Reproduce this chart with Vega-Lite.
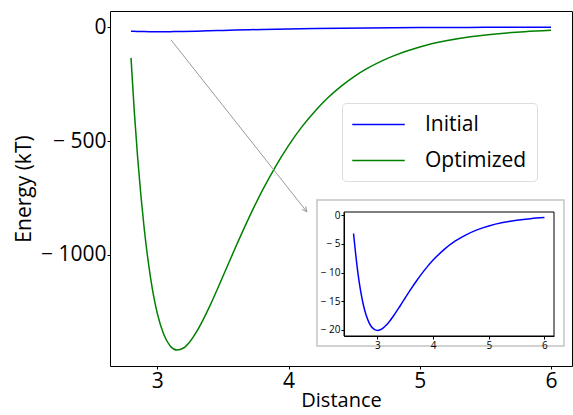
{
  "$schema": "https://vega.github.io/schema/vega-lite/v6.json",
  "width": 462,
  "height": 355,
  "autosize": {"type": "none"},
  "padding": {"left": 110, "top": 11, "right": 1, "bottom": 49},
  "background": "white",
  "config": {
    "font": "Open Sans",
    "view": {"stroke": "black", "strokeWidth": 1},
    "axis": {"grid": false, "labelColor": "black", "titleColor": "black", "tickColor": "black", "domainColor": "black", "titleFontWeight": "normal"}
  },
  "datasets": {
    "main": [
      {"x": 2.8, "energy": -17.56, "series": "Initial"},
      {"x": 2.85, "energy": -18.78, "series": "Initial"},
      {"x": 2.9, "energy": -19.56, "series": "Initial"},
      {"x": 2.95, "energy": -19.98, "series": "Initial"},
      {"x": 3.0, "energy": -20.1, "series": "Initial"},
      {"x": 3.05, "energy": -19.99, "series": "Initial"},
      {"x": 3.1, "energy": -19.7, "series": "Initial"},
      {"x": 3.15, "energy": -19.26, "series": "Initial"},
      {"x": 3.2, "energy": -18.72, "series": "Initial"},
      {"x": 3.3, "energy": -17.4, "series": "Initial"},
      {"x": 3.4, "energy": -15.93, "series": "Initial"},
      {"x": 3.5, "energy": -14.4, "series": "Initial"},
      {"x": 3.6, "energy": -12.9, "series": "Initial"},
      {"x": 3.7, "energy": -11.48, "series": "Initial"},
      {"x": 3.8, "energy": -10.15, "series": "Initial"},
      {"x": 3.9, "energy": -8.93, "series": "Initial"},
      {"x": 4.0, "energy": -7.83, "series": "Initial"},
      {"x": 4.2, "energy": -5.96, "series": "Initial"},
      {"x": 4.4, "energy": -4.5, "series": "Initial"},
      {"x": 4.6, "energy": -3.38, "series": "Initial"},
      {"x": 4.8, "energy": -2.52, "series": "Initial"},
      {"x": 5.0, "energy": -1.88, "series": "Initial"},
      {"x": 5.25, "energy": -1.29, "series": "Initial"},
      {"x": 5.5, "energy": -0.89, "series": "Initial"},
      {"x": 5.75, "energy": -0.61, "series": "Initial"},
      {"x": 6.0, "energy": -0.42, "series": "Initial"},
      {"x": 2.8, "energy": -135, "series": "Optimized"},
      {"x": 2.825, "energy": -370, "series": "Optimized"},
      {"x": 2.85, "energy": -568, "series": "Optimized"},
      {"x": 2.875, "energy": -737, "series": "Optimized"},
      {"x": 2.9, "energy": -881, "series": "Optimized"},
      {"x": 2.95, "energy": -1104, "series": "Optimized"},
      {"x": 3.0, "energy": -1256, "series": "Optimized"},
      {"x": 3.05, "energy": -1350, "series": "Optimized"},
      {"x": 3.1, "energy": -1401, "series": "Optimized"},
      {"x": 3.15, "energy": -1418, "series": "Optimized"},
      {"x": 3.2, "energy": -1409, "series": "Optimized"},
      {"x": 3.25, "energy": -1380, "series": "Optimized"},
      {"x": 3.3, "energy": -1337, "series": "Optimized"},
      {"x": 3.35, "energy": -1284, "series": "Optimized"},
      {"x": 3.4, "energy": -1225, "series": "Optimized"},
      {"x": 3.5, "energy": -1095, "series": "Optimized"},
      {"x": 3.6, "energy": -962, "series": "Optimized"},
      {"x": 3.7, "energy": -835, "series": "Optimized"},
      {"x": 3.8, "energy": -718, "series": "Optimized"},
      {"x": 3.9, "energy": -613, "series": "Optimized"},
      {"x": 4.0, "energy": -520, "series": "Optimized"},
      {"x": 4.1, "energy": -439, "series": "Optimized"},
      {"x": 4.2, "energy": -370, "series": "Optimized"},
      {"x": 4.3, "energy": -310, "series": "Optimized"},
      {"x": 4.4, "energy": -260, "series": "Optimized"},
      {"x": 4.5, "energy": -217, "series": "Optimized"},
      {"x": 4.6, "energy": -181, "series": "Optimized"},
      {"x": 4.7, "energy": -151, "series": "Optimized"},
      {"x": 4.8, "energy": -126, "series": "Optimized"},
      {"x": 5.0, "energy": -87, "series": "Optimized"},
      {"x": 5.2, "energy": -60, "series": "Optimized"},
      {"x": 5.4, "energy": -41, "series": "Optimized"},
      {"x": 5.6, "energy": -28.5, "series": "Optimized"},
      {"x": 5.8, "energy": -19.6, "series": "Optimized"},
      {"x": 6.0, "energy": -13.5, "series": "Optimized"}
    ],
    "inset": [
      {"x": 2.57, "energy": -3.2},
      {"x": 2.6, "energy": -6.03},
      {"x": 2.65, "energy": -10.18},
      {"x": 2.7, "energy": -13.39},
      {"x": 2.75, "energy": -15.8},
      {"x": 2.8, "energy": -17.56},
      {"x": 2.85, "energy": -18.78},
      {"x": 2.9, "energy": -19.56},
      {"x": 2.95, "energy": -19.98},
      {"x": 3.0, "energy": -20.1},
      {"x": 3.05, "energy": -19.99},
      {"x": 3.1, "energy": -19.7},
      {"x": 3.15, "energy": -19.26},
      {"x": 3.2, "energy": -18.72},
      {"x": 3.3, "energy": -17.4},
      {"x": 3.4, "energy": -15.93},
      {"x": 3.5, "energy": -14.4},
      {"x": 3.6, "energy": -12.9},
      {"x": 3.7, "energy": -11.48},
      {"x": 3.8, "energy": -10.15},
      {"x": 3.9, "energy": -8.93},
      {"x": 4.0, "energy": -7.83},
      {"x": 4.2, "energy": -5.96},
      {"x": 4.4, "energy": -4.5},
      {"x": 4.6, "energy": -3.38},
      {"x": 4.8, "energy": -2.52},
      {"x": 5.0, "energy": -1.88},
      {"x": 5.25, "energy": -1.29},
      {"x": 5.5, "energy": -0.89},
      {"x": 5.75, "energy": -0.61},
      {"x": 6.0, "energy": -0.42}
    ]
  },
  "layer": [
    {
      "layer": [
        {
          "data": {"name": "main"},
          "mark": {"type": "line", "strokeWidth": 1.5, "interpolate": "monotone"},
          "encoding": {
            "x": {"field": "x", "type": "quantitative",
              "scale": {"domain": [2.64, 6.16], "nice": false, "zero": false},
              "axis": {"values": [3, 4, 5, 6], "format": "d", "title": "Distance", "labelFontSize": 21, "titleFontSize": 20, "tickSize": 3, "labelPadding": 1, "titlePadding": -1, "domain": false}},
            "y": {"field": "energy", "type": "quantitative",
              "scale": {"domain": [-1488, 71], "nice": false, "zero": false},
              "axis": {"values": [0, -500, -1000], "title": "Energy (kT)", "labelFontSize": 21, "titleFontSize": 21, "tickSize": 3, "labelPadding": 1, "titlePadding": 6, "domain": false,
                "labelExpr": "datum.value < 0 ? '− ' + format(-datum.value, 'd') : format(datum.value, 'd')"}},
            "color": {"field": "series", "type": "nominal",
              "scale": {"domain": ["Initial", "Optimized"], "range": ["#0000ff", "#008000"]},
              "legend": {"orient": "none", "legendX": 232, "legendY": 92, "title": null,
                "symbolType": "M-2.5,0L2.5,0", "symbolSize": 441, "symbolStrokeWidth": 1.5,
                "labelFontSize": 21, "labelColor": "black", "padding": 10, "rowPadding": 14,
                "cornerRadius": 4, "strokeColor": "#dddddd", "fillColor": "white",
                "symbolOffset": 15, "labelOffset": 35}}
          }
        },
        {
          "data": {"values": [{}]},
          "mark": {"type": "rule", "color": "#999999", "strokeWidth": 1},
          "encoding": {
            "x": {"datum": 3.105, "type": "quantitative"},
            "y": {"datum": -56, "type": "quantitative"},
            "x2": {"datum": 4.139},
            "y2": {"datum": -810}
          }
        },
        {
          "data": {"values": [{}]},
          "mark": {"type": "point", "shape": "M-0.6,1.2L0,0L0.6,1.2", "filled": false, "stroke": "#999999", "strokeWidth": 1, "size": 64, "angle": 141.7, "opacity": 1},
          "encoding": {
            "x": {"datum": 4.139, "type": "quantitative"},
            "y": {"datum": -810, "type": "quantitative"}
          }
        }
      ]
    },
    {
      "layer": [
        {
          "data": {"values": [{}]},
          "mark": {"type": "rect", "fill": "white", "stroke": "#c4c4c4", "strokeWidth": 1.5},
          "encoding": {
            "x": {"datum": 1.913, "type": "quantitative",
              "scale": {"domain": [2.3985, 6.1715], "range": [234, 444], "nice": false, "zero": false},
              "axis": {"orient": "bottom", "offset": -30, "values": [3, 4, 5, 6], "format": "d", "title": null, "labelFontSize": 10, "tickSize": 3, "labelPadding": 1, "zindex": 2}},
            "y": {"datum": -22.83, "type": "quantitative",
              "scale": {"domain": [-21.08, 0.56], "range": [325, 201], "nice": false, "zero": false},
              "axis": {"orient": "left", "offset": -234, "values": [0, -5, -10, -15, -20], "title": null, "labelFontSize": 10, "tickSize": 3, "labelPadding": 1, "zindex": 2,
                "labelExpr": "datum.value < 0 ? '− ' + format(-datum.value, 'd') : format(datum.value, 'd')"}},
            "x2": {"datum": 6.351},
            "y2": {"datum": 2.65}
          }
        },
        {
          "data": {"values": [{}]},
          "mark": {"type": "rect", "fill": "white", "stroke": "black", "strokeWidth": 1},
          "encoding": {
            "x": {"datum": 2.3985, "type": "quantitative"},
            "y": {"datum": -21.08, "type": "quantitative"},
            "x2": {"datum": 6.1715},
            "y2": {"datum": 0.56}
          }
        },
        {
          "data": {"name": "inset"},
          "mark": {"type": "line", "color": "#0000ff", "strokeWidth": 1.5, "interpolate": "monotone"},
          "encoding": {
            "x": {"field": "x", "type": "quantitative"},
            "y": {"field": "energy", "type": "quantitative"}
          }
        }
      ]
    }
  ],
  "resolve": {
    "scale": {"x": "independent", "y": "independent"},
    "axis": {"x": "independent", "y": "independent"}
  }
}
